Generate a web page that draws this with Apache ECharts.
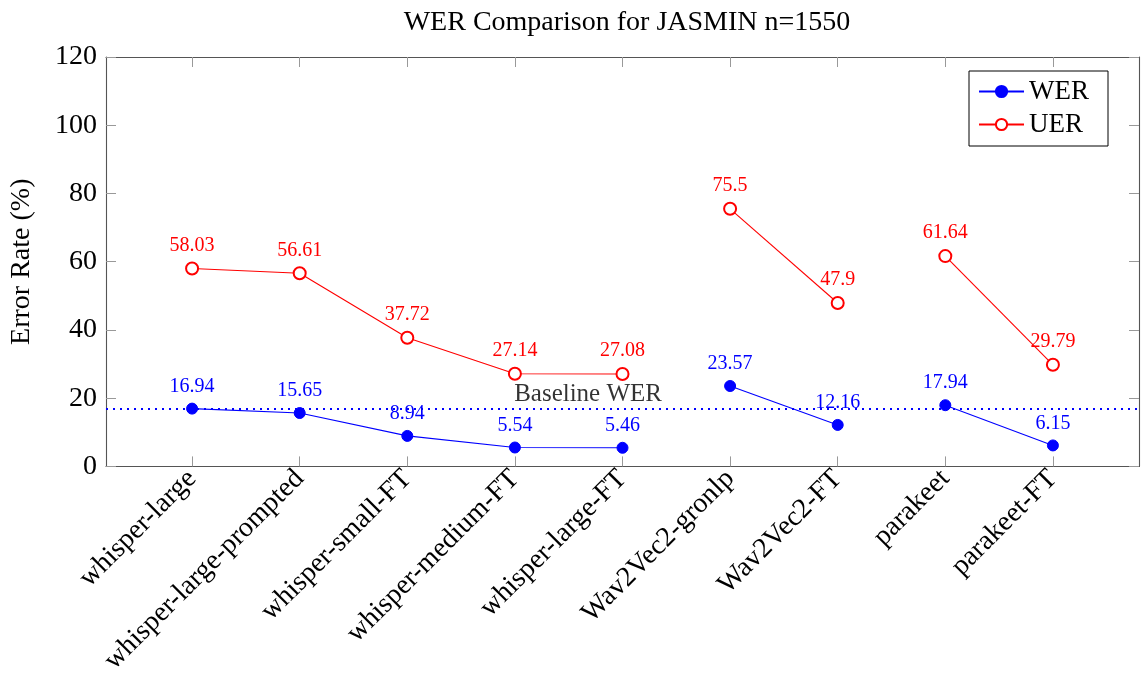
<!DOCTYPE html>
<html>
<head>
<meta charset="utf-8">
<script src="https://cdn.jsdelivr.net/npm/echarts@6/dist/echarts.min.js"></script>
<style>
html,body{margin:0;padding:0;background:#fff;}
#chart{width:1145px;height:677px;}
</style>
</head>
<body>
<div id="chart"></div>
<script>
const categories = ['whisper-large','whisper-large-prompted','whisper-small-FT','whisper-medium-FT','whisper-large-FT','Wav2Vec2-gronlp','Wav2Vec2-FT','parakeet','parakeet-FT'];
const werValues = [16.94, 15.65, 8.94, 5.54, 5.46, 23.57, 12.16, 17.94, 6.15];
const uerValues = [58.03, 56.61, 37.72, 27.14, 27.08, 75.5, 47.9, 61.64, 29.79];
// connected groups of categories (start index, end index exclusive)
const segments = [[0, 5], [5, 7], [7, 9]];
const baselineWER = 16.94;
const baselineLabelX = 3.68;
const yTicks = [0, 20, 40, 60, 80, 100, 120];
const xTickValues = categories.map((c, i) => i);

const FONT = 'Liberation Serif';
const BLUE = '#0000ff';
const RED = '#ff0000';

function makeSeries(name, values, color, symbol, withBaseline) {
  return segments.map((seg, si) => {
    const data = [];
    for (let i = seg[0]; i < seg[1]; i++) data.push([i, values[i]]);
    const s = {
      name: name,
      type: 'line',
      data: data,
      symbol: symbol,
      symbolSize: symbol === 'circle' ? 11 : 12,
      showAllSymbol: true,
      lineStyle: { color: color, width: 1.1 },
      itemStyle: { color: color, borderColor: color, borderWidth: 1 },
      label: {
        show: true, position: 'top', distance: 6,
        color: color, fontFamily: FONT, fontSize: 20,
        formatter: p => String(p.value[1])
      },
      emphasis: { disabled: true },
      z: 3
    };
    if (withBaseline && si === 0) {
      s.markLine = {
        silent: true,
        symbol: ['none', 'none'],
        label: { show: false },
        lineStyle: { type: [2, 5], color: BLUE, width: 2 },
        data: [{ yAxis: baselineWER }]
      };
    }
    return s;
  });
}

const series = [].concat(
  makeSeries('WER', werValues, BLUE, 'circle', true),
  makeSeries('UER', uerValues, RED, 'emptyCircle', false),
  [{
    name: 'baselineLabel',
    type: 'scatter',
    data: [[baselineLabelX, baselineWER]],
    symbolSize: 0,
    silent: true,
    label: {
      show: true, position: 'top', distance: 2,
      formatter: 'Baseline WER', color: '#000', fontFamily: FONT, fontSize: 25
    },
    z: 2
  }]
);

const axisLineStyle = { color: '#555555', width: 1.1 };
const tickStyle = { show: true, inside: true, length: 10, lineStyle: { color: '#999999', width: 1 } };

const option = {
  animation: false,
  backgroundColor: '#ffffff',
  title: {
    text: 'WER Comparison for JASMIN n=1550',
    left: 622, top: 4, textAlign: 'center',
    textStyle: { fontFamily: FONT, fontSize: 28, fontWeight: 'normal', color: '#000' }
  },
  legend: {
    data: ['WER', 'UER'],
    orient: 'vertical',
    right: 37, top: 71,
    itemWidth: 45, itemHeight: 14, itemGap: 6,
    padding: [7, 19, 8, 9],
    borderColor: '#000', borderWidth: 1, backgroundColor: '#fff',
    textStyle: { fontFamily: FONT, fontSize: 27, color: '#000', lineHeight: 27 }
  },
  grid: { left: 106, right: 6, top: 57, bottom: 210 },
  xAxis: [{
    type: 'value', min: -0.8, max: 8.8, position: 'bottom',
    axisLine: { show: true, onZero: false, lineStyle: axisLineStyle },
    axisTick: Object.assign({ customValues: xTickValues }, tickStyle),
    axisLabel: {
      customValues: xTickValues, rotate: 45, margin: 8,
      fontFamily: FONT, fontSize: 28, color: '#000',
      formatter: v => categories[Math.round(v)]
    },
    splitLine: { show: false }
  }, {
    type: 'value', min: -0.8, max: 8.8, position: 'top',
    axisLine: { show: true, onZero: false, lineStyle: axisLineStyle },
    axisTick: Object.assign({ customValues: xTickValues }, tickStyle),
    axisLabel: { show: false },
    splitLine: { show: false }
  }],
  yAxis: [{
    type: 'value', min: 0, max: 120, interval: 20, position: 'left',
    name: 'Error Rate (%)', nameLocation: 'middle', nameGap: 70, nameRotate: 90,
    nameTextStyle: { fontFamily: FONT, fontSize: 28, color: '#000' },
    axisLine: { show: true, onZero: false, lineStyle: axisLineStyle },
    axisTick: tickStyle,
    axisLabel: { margin: 9, fontFamily: FONT, fontSize: 28, color: '#000',
      formatter: v => yTicks.indexOf(v) >= 0 ? String(v) : '' },
    splitLine: { show: false }
  }, {
    type: 'value', min: 0, max: 120, interval: 20, position: 'right',
    axisLine: { show: true, onZero: false, lineStyle: axisLineStyle },
    axisTick: tickStyle,
    axisLabel: { show: false },
    splitLine: { show: false }
  }],
  series: series
};

const chart = echarts.init(document.getElementById('chart'), null, { renderer: 'canvas' });
chart.setOption(option);
</script>
</body>
</html>
